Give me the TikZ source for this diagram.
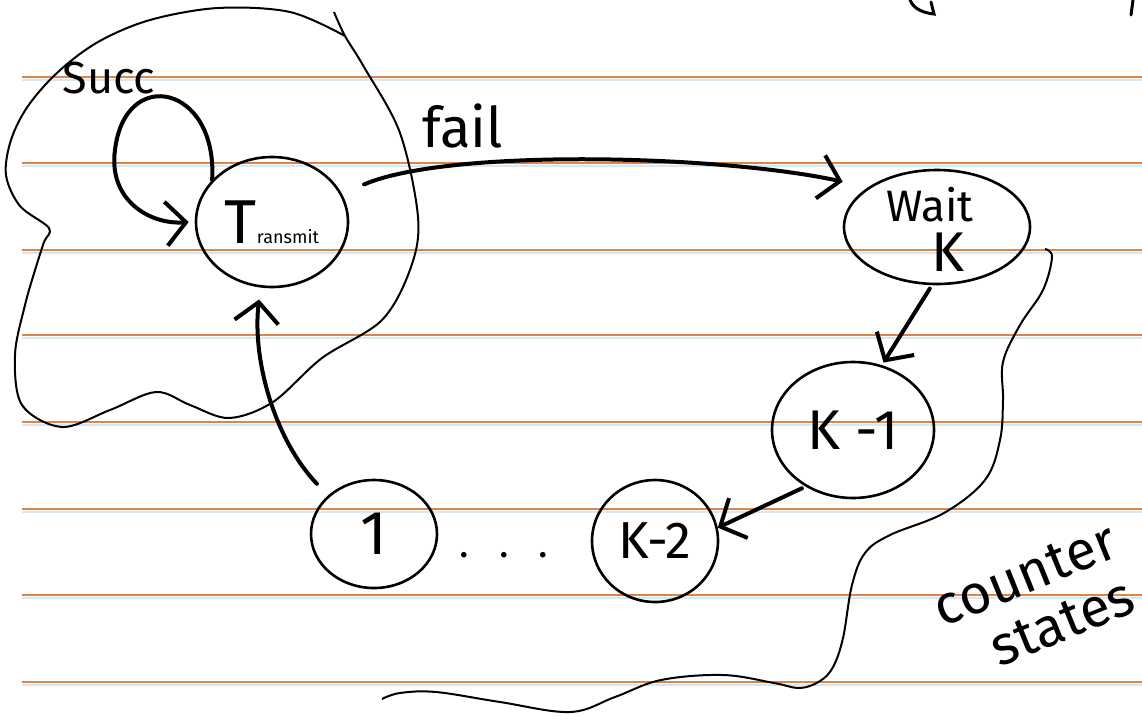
\documentclass[tikz,border=0pt]{standalone}
\usepackage{fontspec}
\setmainfont{Fira Sans}
\usetikzlibrary{shapes.geometric,arrows.meta}
\definecolor{ruleorange}{HTML}{DD8548}
\definecolor{ruleblue}{HTML}{D9E8F0}
\tikzset{
  state/.style={draw, ellipse, line width=2.6pt, inner sep=0pt},
  arr/.style={line width=4pt, line cap=round,
    -{Straight Barb[length=20pt,width=44pt]}},
  region/.style={line width=2pt, line join=round},
  txt/.style={inner sep=0pt},
  pen/.style={line width=3pt, line cap=round},
}
\begin{document}
\begin{tikzpicture}[x=1pt,y=-1pt]
\useasboundingbox (0,0) rectangle (1142,715);
\clip (0,0) rectangle (1142,715);
\fill[white] (0,0) rectangle (1142,715);

% ruled paper
\foreach \yy in {77,163,250,335,422,509,595,682}{
  \draw[ruleblue, line width=2.5pt] (22,\yy+3) -- (1142,\yy+3);
  \draw[ruleorange, line width=2pt] (22,\yy) -- (1142,\yy);
}

% ends of words from the line above
\draw[pen] (910,0) .. controls (914,10) and (925,13) .. (934,14) -- (931,2);
\draw[pen] (1133,0) -- (1131,15);

% states
\node[state, minimum width=152pt, minimum height=130pt] (T) at (272,222)
  {\fontsize{62}{62}\selectfont T\fontsize{18}{18}\selectfont ransmit};
\node[state, minimum width=186pt, minimum height=114pt] (W) at (937,227) {};
\node[txt, font=\fontsize{44}{44}\selectfont] (wait) at (930,205) {Wait};
\node[txt, font=\fontsize{56}{56}\selectfont] (wk) at (948,252) {K};
\node[state, minimum width=162pt, minimum height=136pt,
      font=\fontsize{56}{56}\selectfont] (K1) at (853,430) {K -1};
\node[state, minimum width=126pt, minimum height=122pt,
      font=\fontsize{52}{52}\selectfont] (K2) at (655,541) {K-2};
\node[state, minimum width=126pt, minimum height=108pt,
      font=\fontsize{62}{62}\selectfont] (One) at (374,534) {1};
\node[txt, font=\fontsize{40}{40}\selectfont] (dots) at (504,555)
  {.\hspace{30pt}.\hspace{30pt}.};

% labels
\node[txt, font=\fontsize{45}{45}\selectfont] (succ) at (109,78) {Succ};
\node[txt, font=\fontsize{56}{56}\selectfont] (fail) at (463,126) {fail};
\node[txt, rotate=22, align=center, font=\fontsize{55}{58}\selectfont]
  (cnt) at (1036,602) {counter\\\hspace*{34pt}states};

% region of the transmit state
\draw[region] plot[smooth, tension=0.55] coordinates {
  (334,12) (345,36) (364,67) (400,133) (418,217) (411,267) (382,320)
  (322,358) (273,402) (229,418) (190,405) (156,392) (110,410) (62,427)
  (22,405) (15,355) (25,305) (36,267) (44,242) (49,228) (20,206) (6,175)
  (11,140) (28,106) (58,72) (98,42) (150,20) (218,8) (290,12) (345,36)};

% region of the counter states
\draw[region] plot[smooth, tension=0.6] coordinates {
  (1045,249) (1052,257) (1043,290) (1020,325) (1003,362) (1003,400)
  (1000,440) (985,480) (944,513) (890,535) (865,553) (852,585) (843,638)
  (833,667) (820,681) (800,688) (774,683) (723,675) (661,680) (615,697)
  (570,712) (500,702) (436,692) (400,693) (382,699)};

% transitions
\draw[arr] (T.145) .. controls (218,85) and (125,65) .. (115,150)
  .. controls (108,200) and (150,225) .. ([xshift=-6pt]T.180);
\draw[arr, shorten <=24pt, shorten >=26pt] (T.22) .. controls (450,148) and (720,155) .. (W.150);
\draw[arr, shorten <=4pt, shorten >=3pt] (W.265) -- (K1.66);
\draw[arr, shorten <=4pt] (K1.230) -- (K2.12);
\draw[arr, shorten <=16pt, shorten >=12pt] (One.140) .. controls (275,440) and (252,360) .. (T.260);
\end{tikzpicture}
\end{document}
